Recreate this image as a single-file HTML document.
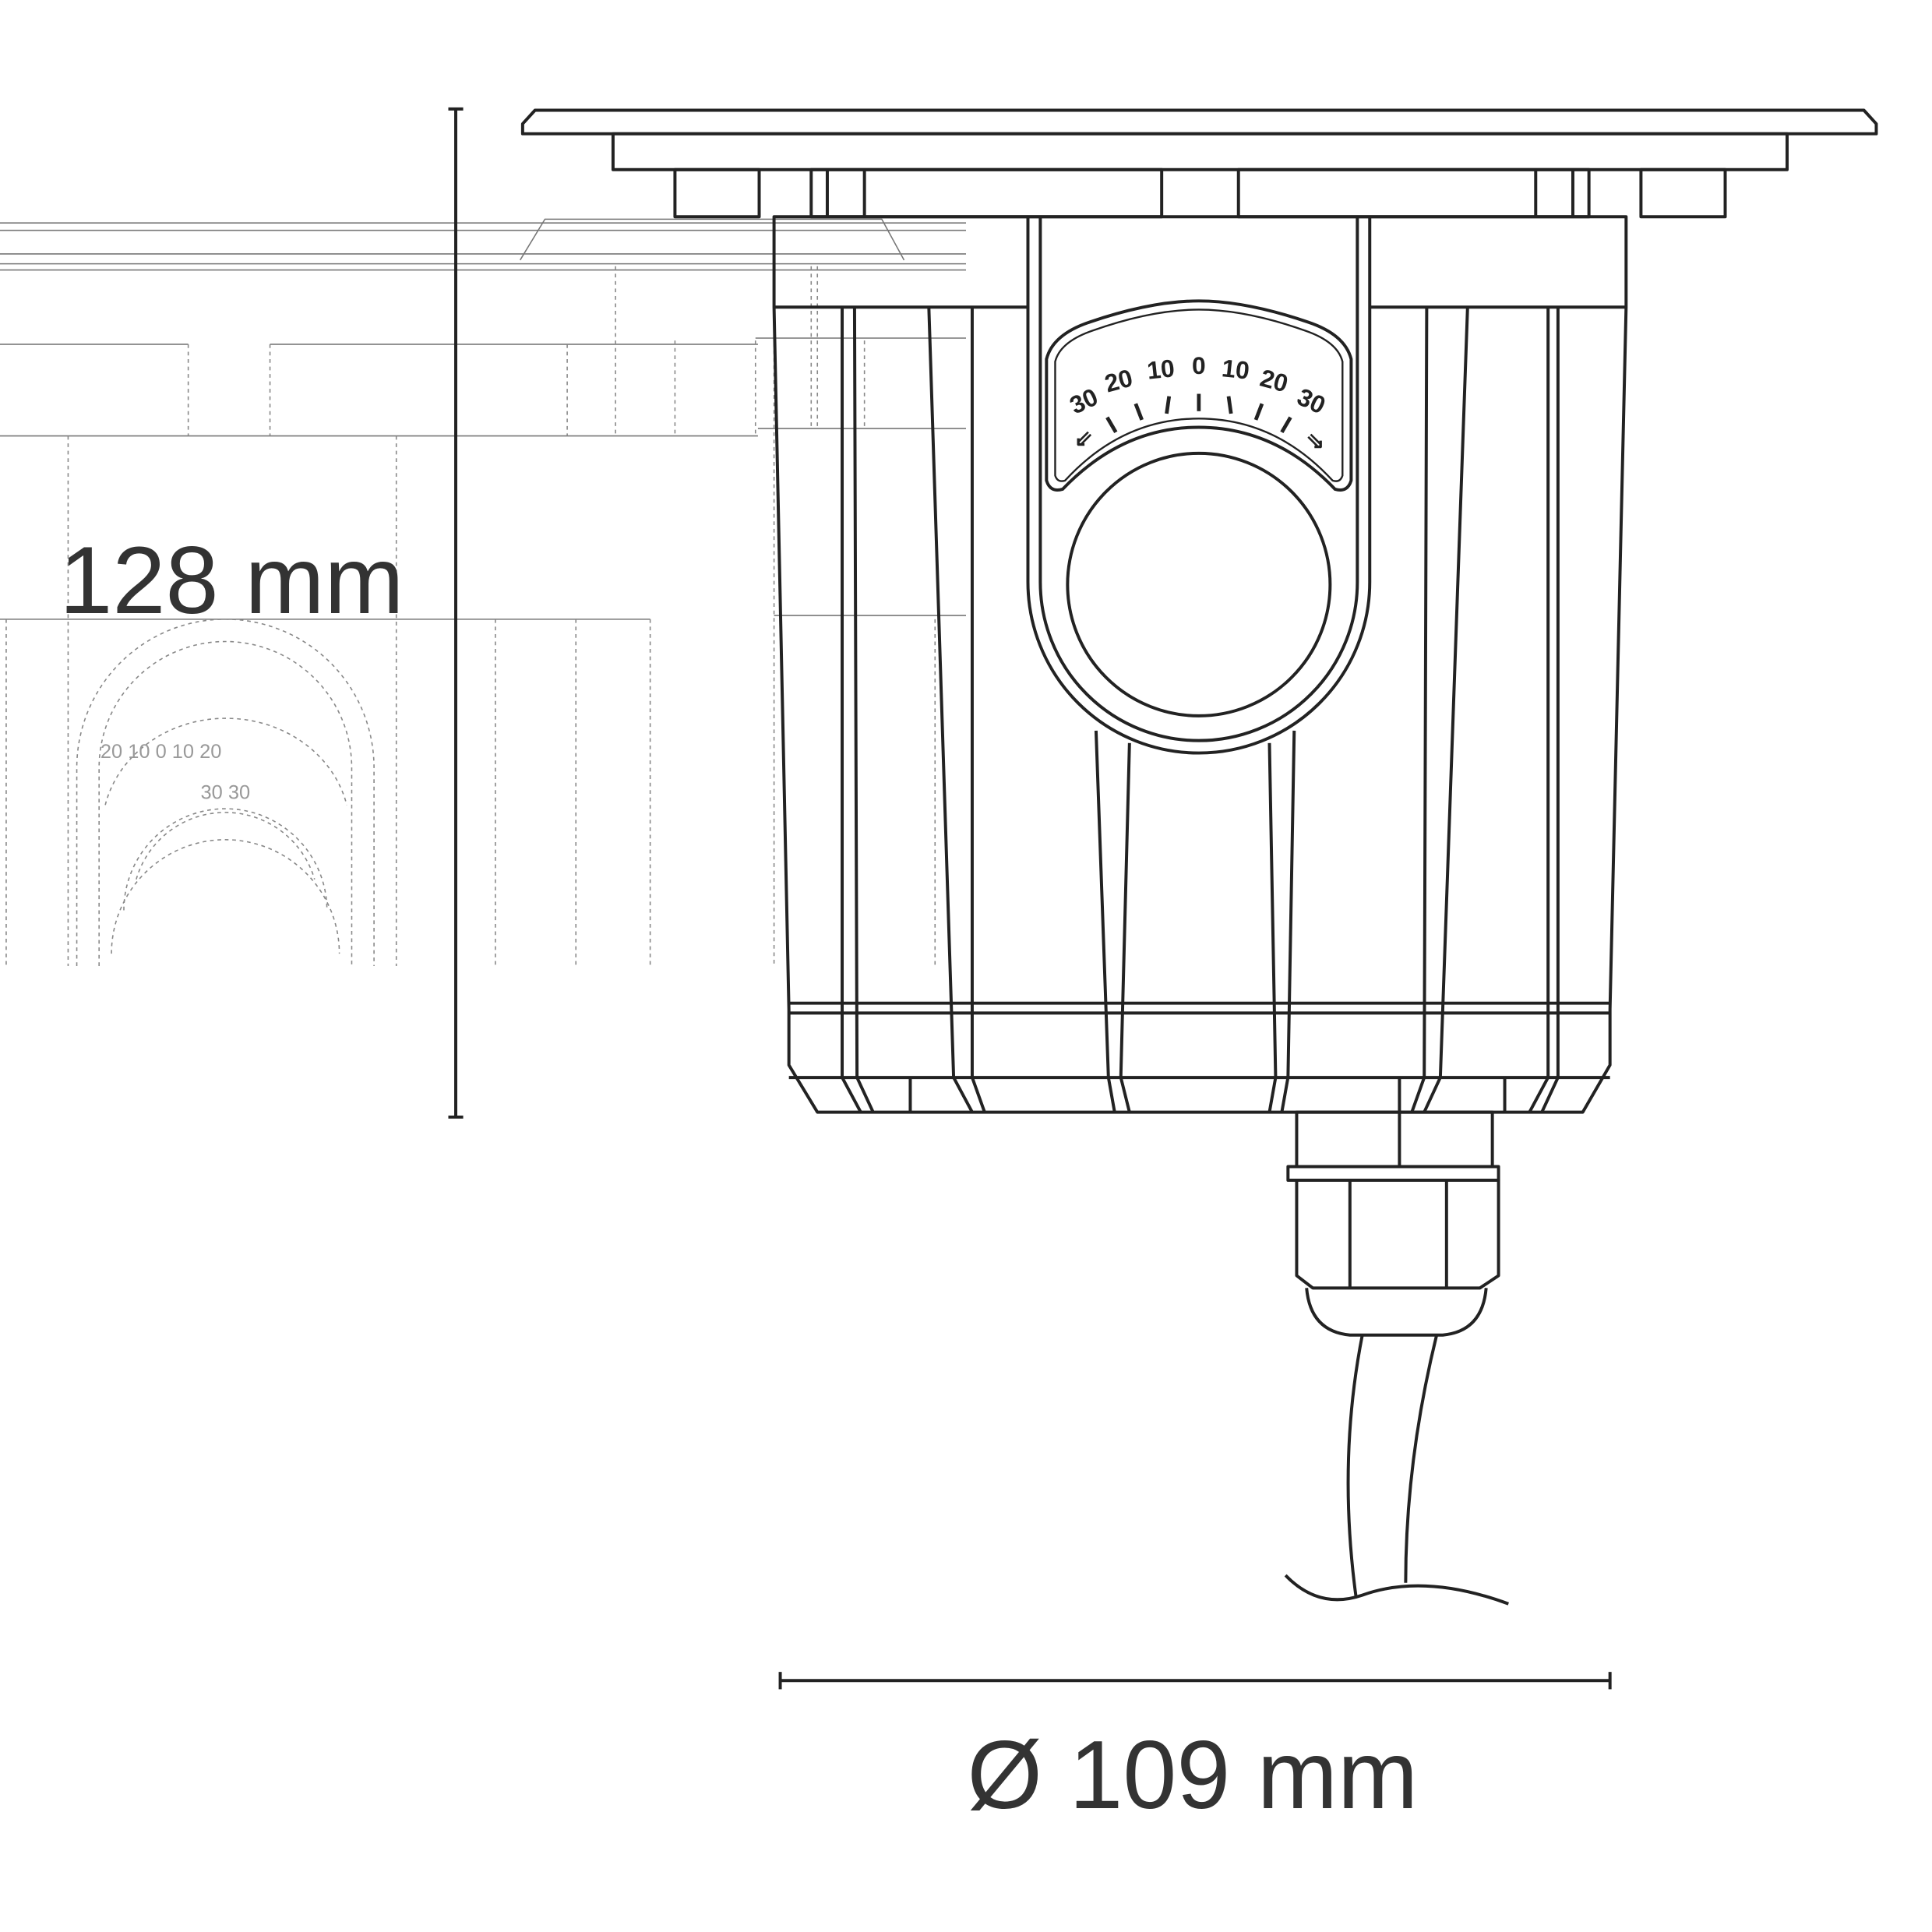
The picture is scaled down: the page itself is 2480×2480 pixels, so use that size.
<!DOCTYPE html>
<html><head><style>html,body{margin:0;padding:0;background:#fff}svg{display:block}</style></head>
<body>
<svg width="2480" height="2480" viewBox="0 0 1560 1560" xmlns="http://www.w3.org/2000/svg" font-family="Liberation Sans, sans-serif">
<g stroke="#777" stroke-width="1" fill="none">
<line x1="0" y1="180" x2="780" y2="180"/><line x1="0" y1="186" x2="780" y2="186"/>
<line x1="0" y1="205" x2="780" y2="205"/><line x1="0" y1="213" x2="780" y2="213"/><line x1="0" y1="218" x2="780" y2="218"/>
<path d="M420,210 L440,177 L712,177 L730,210"/>
<line x1="0" y1="278" x2="152" y2="278"/><line x1="218" y1="278" x2="612" y2="278"/>
<line x1="0" y1="352" x2="612" y2="352"/><line x1="612" y1="346" x2="780" y2="346"/>
<line x1="0" y1="500" x2="525" y2="500"/><line x1="625" y1="497" x2="780" y2="497"/>
<line x1="610" y1="273" x2="780" y2="273"/>
</g>
<g stroke="#888" stroke-width="1" fill="none" stroke-dasharray="3,3">
<line x1="152" y1="278" x2="152" y2="352"/><line x1="218" y1="278" x2="218" y2="352"/>
<line x1="458" y1="278" x2="458" y2="352"/><line x1="497" y1="215" x2="497" y2="352"/>
<line x1="545" y1="275" x2="545" y2="352"/><line x1="610" y1="275" x2="610" y2="352"/>
<line x1="655" y1="215" x2="655" y2="346"/><line x1="698" y1="275" x2="698" y2="346"/>
<line x1="625" y1="175" x2="625" y2="780"/><line x1="660" y1="215" x2="660" y2="346"/>
<line x1="55" y1="352" x2="55" y2="780"/><line x1="320" y1="352" x2="320" y2="780"/>
<line x1="5" y1="500" x2="5" y2="780"/><line x1="400" y1="500" x2="400" y2="780"/>
<line x1="465" y1="500" x2="465" y2="780"/><line x1="525" y1="500" x2="525" y2="780"/>
<line x1="755" y1="500" x2="755" y2="780"/>
<path d="M62,780 L62,620 A120,120 0 0 1 302,620 L302,780"/>
<path d="M80,780 L80,620 A102,102 0 0 1 284,620 L284,780"/>
<path d="M90,770 A92,92 0 0 1 274,770"/><path d="M100,735 A82,82 0 0 1 264,735"/>
<path d="M110,710 A75,75 0 0 1 254,710"/>
<path d="M85,650 A100,90 0 0 1 280,650"/>
</g>
<g fill="#999" font-size="16" text-anchor="middle"><text x="130" y="612">20 10 0 10 20</text><text x="182" y="645">30       30</text></g>

<g stroke="#222" stroke-width="2.5" fill="none" stroke-linejoin="round">
<path d="M422,100 L432,89 L1505,89 L1515,100 L1515,108 L422,108 Z"/>
<rect x="495" y="108" width="948" height="29"/>
<rect x="545" y="137" width="68" height="38"/>
<rect x="655" y="137" width="283" height="38"/>
<line x1="668" y1="137" x2="668" y2="175"/><line x1="698" y1="137" x2="698" y2="175"/>
<rect x="1000" y="137" width="283" height="38"/>
<line x1="1240" y1="137" x2="1240" y2="175"/><line x1="1270" y1="137" x2="1270" y2="175"/>
<rect x="1325" y="137" width="68" height="38"/>
<path d="M625,175 L1313,175 L1313,248 L1300,815 L1300,860 L1278,898 L660,898 L637,860 L637,815 L625,248 Z"/>
<line x1="625" y1="248" x2="830" y2="248"/><line x1="1105" y1="248" x2="1313" y2="248"/>
<line x1="637" y1="810" x2="1300" y2="810"/><line x1="637" y1="818" x2="1300" y2="818"/>
<path d="M680,248 L680,870 L695,898"/><path d="M690,248 L692,870 L705,898"/>
<path d="M750,248 L770,870 L785,898"/><path d="M785,248 L785,870 L795,898"/>
<path d="M1152,248 L1150,870 L1140,898"/><path d="M1185,248 L1163,870 L1150,898"/>
<path d="M1250,248 L1250,870 L1235,898"/><path d="M1258,248 L1258,870 L1245,898"/>
<path d="M885,590 L895,870 L900,898"/><path d="M912,600 L905,870 L912,898"/>
<path d="M1025,600 L1030,870 L1025,898"/><path d="M1045,590 L1040,870 L1035,898"/>
<line x1="637" y1="870" x2="1300" y2="870"/>
<line x1="735" y1="870" x2="735" y2="898"/><line x1="1130" y1="870" x2="1130" y2="898"/>
<line x1="1215" y1="870" x2="1215" y2="898"/>
<path d="M830,175 L830,470 A138,138 0 0 0 1106,470 L1106,175"/>
<path d="M840,175 L840,470 A128,128 0 0 0 1096,470 L1096,175"/>
<circle cx="968" cy="472" r="106"/>
<path d="M845,290 Q850,270 880,260 Q930,243 968,243 Q1006,243 1056,260 Q1086,270 1091,290 L1091,388 Q1088,398 1078,395 Q1030,345 968,345 Q906,345 858,395 Q848,398 845,388 Z"/>
<path d="M852,292 Q856,276 882,267 Q930,250 968,250 Q1006,250 1054,267 Q1080,276 1084,292 L1084,384 Q1082,390 1076,388 Q1030,338 968,338 Q906,338 860,388 Q854,390 852,384 Z" stroke-width="1.5"/>
<rect x="1047" y="898" width="158" height="44"/>
<line x1="1130" y1="898" x2="1130" y2="942"/>
<rect x="1040" y="942" width="170" height="11"/>
<path d="M1047,953 L1210,953 L1210,1030 L1195,1040 L1060,1040 L1047,1030 Z"/>
<line x1="1090" y1="953" x2="1090" y2="1040"/><line x1="1168" y1="953" x2="1168" y2="1040"/>
<path d="M1055,1040 Q1058,1075 1090,1078 L1165,1078 Q1197,1075 1200,1040"/>
<path d="M1100,1078 Q1080,1180 1095,1290"/>
<path d="M1160,1078 Q1135,1180 1135,1278"/>
<path d="M1038,1272 Q1065,1300 1100,1288 Q1150,1270 1218,1295"/>
<line x1="630" y1="1357" x2="1300" y2="1357"/>
<line x1="630" y1="1350" x2="630" y2="1364"/><line x1="1300" y1="1350" x2="1300" y2="1364"/>
<line x1="368" y1="88" x2="368" y2="902"/>
<line x1="362" y1="88" x2="374" y2="88"/><line x1="362" y1="902" x2="374" y2="902"/>
</g>
<g stroke="#222" stroke-width="3">
<line x1="968" y1="318" x2="968" y2="332"/>
<line x1="944" y1="320" x2="942" y2="334"/><line x1="992" y1="320" x2="994" y2="334"/>
<line x1="917" y1="326" x2="922" y2="339"/><line x1="1019" y1="326" x2="1014" y2="339"/>
<line x1="894" y1="337" x2="901" y2="349"/><line x1="1042" y1="337" x2="1035" y2="349"/>
</g>
<g fill="#222" font-size="20" font-weight="bold" text-anchor="middle">
<text x="878" y="330" transform="rotate(-25 878 330)">30</text>
<text x="905" y="314" transform="rotate(-15 905 314)">20</text>
<text x="938" y="305" transform="rotate(-6 938 305)">10</text>
<text x="968" y="302">0</text>
<text x="997" y="305" transform="rotate(6 997 305)">10</text>
<text x="1027" y="314" transform="rotate(15 1027 314)">20</text>
<text x="1056" y="330" transform="rotate(25 1056 330)">30</text>
<text x="875" y="360" font-size="18">⇙</text><text x="1062" y="362" font-size="18">⇘</text>
</g>
<text x="963" y="1460" font-size="78" fill="#333" text-anchor="middle">Ø 109 mm</text>
<text x="48" y="495" font-size="77" fill="#333">128 mm</text>
</svg>
</body></html>
